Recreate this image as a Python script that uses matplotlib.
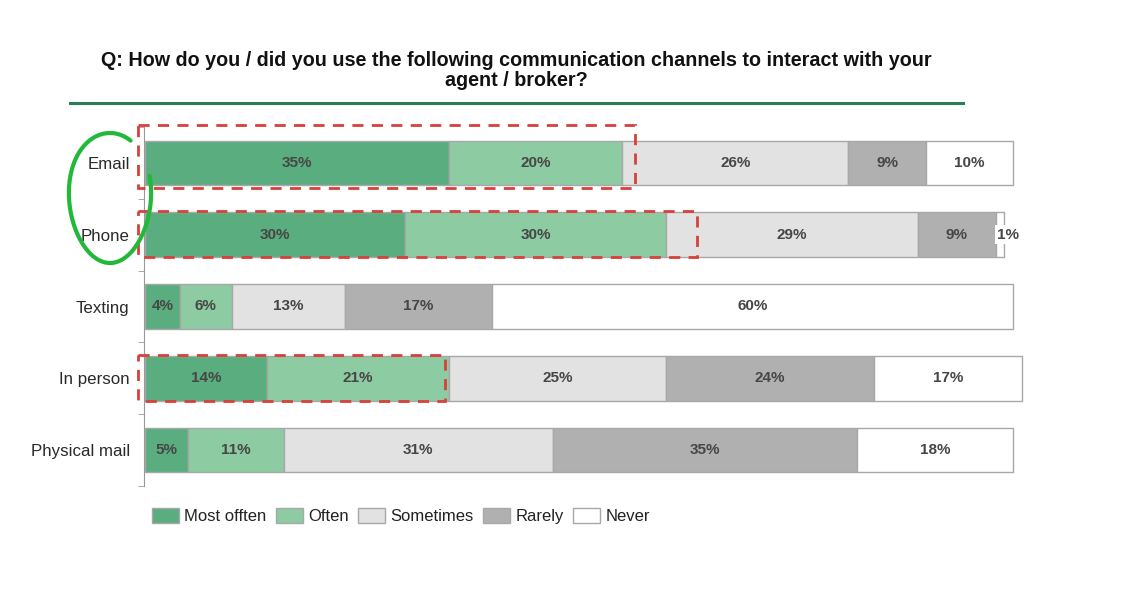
import numpy as np
import matplotlib
matplotlib.use("Agg")
import matplotlib.pyplot as plt
from matplotlib.patches import Rectangle, Patch

plt.rcParams['font.family'] = ['Liberation Sans', 'DejaVu Sans']

channels = ["Email", "Phone", "Texting", "In person", "Physical mail"]
levels = ["Most offten", "Often", "Sometimes", "Rarely", "Never"]
most_often = [35, 30, 4, 14, 5]
often = [20, 30, 6, 21, 11]
sometimes = [26, 29, 13, 25, 31]
rarely = [9, 9, 17, 24, 35]
never = [10, 1, 60, 17, 18]

colors = ["#5aad7e", "#8dcba2", "#e2e2e2", "#b0b0b0", "#ffffff"]
series = [most_often, often, sometimes, rarely, never]

fig = plt.figure(figsize=(11.44, 6.05), dpi=100)
ax = fig.add_axes([145 / 1144, 1 - 486 / 605, 868 / 1144, 359 / 605])

y = np.arange(len(channels))
left = np.zeros(len(channels))
bar_h = 0.62
for vals, col in zip(series, colors):
    vals = np.array(vals, dtype=float)
    ax.barh(y, vals, left=left, height=bar_h, color=col,
            edgecolor="#a8a8a8", linewidth=1.0, clip_on=False)
    for yi, (l, v) in enumerate(zip(left, vals)):
        if v <= 2:
            ax.text(l + v / 2 + 0.9, yi, f"{int(v)}%", ha="center", va="center",
                    fontsize=11, fontweight="bold", color="#464646",
                    bbox=dict(boxstyle="square,pad=0.15", fc="white", ec="none"))
        else:
            ax.text(l + v / 2, yi, f"{int(v)}%", ha="center", va="center",
                    fontsize=11, fontweight="bold", color="#464646")
    left += vals

ax.set_xlim(0, 100)
ax.set_ylim(4.5, -0.5)
ax.set_yticks(y)
ax.set_yticklabels(channels)
ax.set_yticks(np.arange(-0.5, 5.0, 1.0), minor=True)
ax.tick_params(axis="y", which="major", length=0, pad=10,
               labelsize=12.2, labelcolor="#2a2a2a")
ax.tick_params(axis="y", which="minor", length=4, color="#999999")
ax.set_xticks([])
for s in ["top", "right", "bottom"]:
    ax.spines[s].set_visible(False)
ax.spines["left"].set_color("#999999")
ax.spines["left"].set_position(("outward", 1))

# dashed highlight boxes around the "most often + often" share
boxes = [(0, 1.4, -0.53, 0.35), (1, 3.6, -0.33, 0.31), (3, -0.4, -0.33, 0.31)]
for row, pad, top, bottom in boxes:
    right = most_often[row] + often[row] + pad
    ax.add_patch(Rectangle((-0.8, row + top), right + 0.8, bottom - top,
                           fill=False, ec="#d8403a", lw=2.0, ls=(0, (4, 3)),
                           clip_on=False, zorder=5))

# title and rule
title_kw = dict(ha="center", va="center", fontsize=14.2, fontweight="bold", color="#111111")
fig.text(516 / 1144, 1 - 61 / 605,
         "Q: How do you / did you use the following communication channels to interact with your",
         **title_kw)
fig.text(516 / 1144, 1 - 81 / 605, "agent / broker?", **title_kw)
fig.add_artist(plt.Line2D([70 / 1144, 963 / 1144], [1 - 103 / 605, 1 - 103 / 605],
                          color="#2a7d55", lw=2.2, transform=fig.transFigure))

# hand-drawn loop around the first two channel names
t = np.linspace(np.deg2rad(62), np.deg2rad(380), 200)
cx, cy, rx, ry = 110, 198, 41, 65
px = cx + rx * np.cos(t) * (1 + 0.08 * np.sin(t))
py = cy - ry * np.sin(t)
fig.add_artist(plt.Line2D(px / 1144, 1 - py / 605, color="#22b83a", lw=3,
                          transform=fig.transFigure, solid_capstyle="round"))

handles = [Patch(facecolor=c, edgecolor="#a8a8a8", lw=1.0) for c in colors]
fig.legend(handles, levels, loc="center left", bbox_to_anchor=(137 / 1144, 1 - 516 / 605),
           ncol=5, frameon=False, fontsize=12, handlelength=1.6, handleheight=1.0,
           columnspacing=0.55, handletextpad=0.35, labelcolor="#222222")

fig.savefig("out.png", dpi=100, facecolor="white")
